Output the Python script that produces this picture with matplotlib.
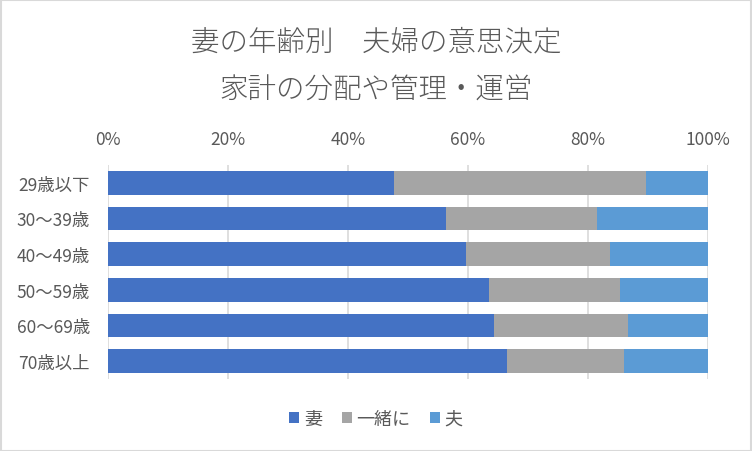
import matplotlib
matplotlib.use("Agg")
import matplotlib.pyplot as plt
import matplotlib.ticker as mticker
from matplotlib.patches import Rectangle

plt.rcParams["font.family"] = ["Noto Sans CJK JP", "DejaVu Sans"]

# Data (percent shares per age group of wife)
age_groups = ["29歳以下", "30～39歳", "40～49歳", "50～59歳", "60～69歳", "70歳以上"]
wife = [47.7, 56.3, 59.6, 63.5, 64.3, 66.5]
together = [41.9, 25.2, 24.1, 21.8, 22.4, 19.5]
husband = [10.4, 18.5, 16.3, 14.7, 13.3, 14.0]

series_names = ["妻", "一緒に", "夫"]
colours = ["#4472C4", "#A5A5A5", "#5B9BD5"]
text_col = "#595959"

fig = plt.figure(figsize=(7.52, 4.52), dpi=100)
# plot area: x 108..708 px, y 166..380 px
ax = fig.add_axes([108 / 752, 1 - 380 / 452, 600 / 752, 214 / 452])

y = list(range(len(age_groups)))
left = [0.0] * len(age_groups)
for name, vals, col in zip(series_names, [wife, together, husband], colours):
    ax.barh(y, vals, left=left, height=0.66, color=col, label=name, zorder=3)
    left = [l + v for l, v in zip(left, vals)]

ax.set_xlim(0, 100)
ax.set_ylim(len(age_groups) - 0.5, -0.5)
ax.set_yticks(y)
ax.set_yticklabels(age_groups)
ax.xaxis.tick_top()
ax.set_xticks([0, 20, 40, 60, 80, 100])
ax.xaxis.set_major_formatter(mticker.FuncFormatter(lambda v, _: f"{v:.0f}%"))
ax.tick_params(axis="both", length=0, labelsize=12.5, colors=text_col)
ax.tick_params(axis="x", pad=12)
ax.tick_params(axis="y", pad=13)
ax.grid(axis="x", color="#D9D9D9", linewidth=1.2, zorder=0)
for s in ax.spines.values():
    s.set_visible(False)

fig.text(0.5, 1 - 42 / 452, "妻の年齢別　夫婦の意思決定", ha="center", va="center",
         fontsize=20.5, color=text_col, fontweight="light")
fig.text(0.5, 1 - 90 / 452, "家計の分配や管理・運営", ha="center", va="center",
         fontsize=20.5, color=text_col, fontweight="light")

fig.legend(loc="center", bbox_to_anchor=(0.5, 1 - 420 / 452), ncol=3, frameon=False,
           fontsize=13, labelcolor=text_col, handlelength=0.55, handleheight=0.55,
           handletextpad=0.25, columnspacing=1.1)

fig.patches.append(Rectangle((0.001, 0.001), 0.998, 0.997, transform=fig.transFigure,
                             fill=False, edgecolor="#D9D9D9", linewidth=1.5))

fig.savefig("out.png", dpi=100)
